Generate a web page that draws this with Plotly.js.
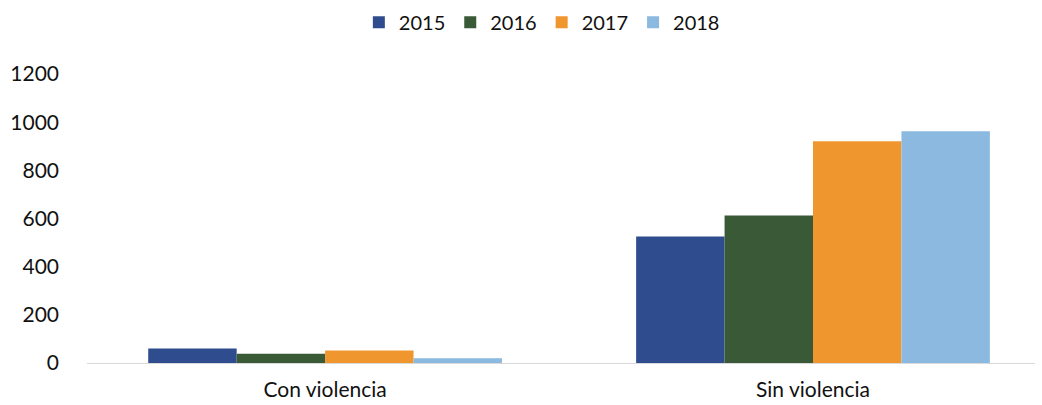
<!DOCTYPE html>
<html><head><meta charset="utf-8">
<script src="https://cdn.plot.ly/plotly-3.0.1.min.js"></script>
<style>body{margin:0;background:#fff}#c{width:1042px;height:405px}</style>
</head><body><div id="c"></div>
<script>
const categories = ["Con violencia", "Sin violencia"];
const years = ["2015", "2016", "2017", "2018"];
const v2015 = [60, 525];
const v2016 = [38, 612];
const v2017 = [52, 921];
const v2018 = [20, 962];
const colors = ["#2E4C8E", "#3A5A37", "#F0962F", "#8BB9E0"];
const series = [v2015, v2016, v2017, v2018];
const font = "Lato, 'Open Sans', sans-serif";
const traces = series.map((vals, i) => ({
  type: "bar", name: years[i], x: categories, y: vals,
  marker: {color: colors[i]}, hoverinfo: "skip"
}));
Plotly.newPlot("c", traces, {
  width: 1042, height: 405,
  margin: {l: 87, r: 7, t: 74, b: 42, autoexpand: false},
  paper_bgcolor: "#fff", plot_bgcolor: "#fff",
  font: {family: font, size: 21, color: "#111"},
  barmode: "group", bargap: 0.275, bargroupgap: 0,
  showlegend: true,
  legend: {orientation: "h", xref: "container", yref: "container", x: 0.52, xanchor: "center",
           y: 0.945, yanchor: "middle", font: {size: 20, color: "#111"}, itemwidth: 30,
           traceorder: "normal", tracegroupgap: 0},
  xaxis: {type: "category", range: [-0.488, 1.455], showgrid: false, zeroline: false,
          showline: true, linecolor: "#d9d9d9", linewidth: 1, ticks: "", ticklabelstandoff: 8,
          tickfont: {size: 21}},
  yaxis: {range: [0, 1200], tickvals: [0,200,400,600,800,1000,1200], showgrid: false,
          zeroline: false, showline: false, ticks: "", ticklabelstandoff: 27, tickfont: {size: 21}}
}, {displayModeBar: false, staticPlot: true});
</script></body></html>
